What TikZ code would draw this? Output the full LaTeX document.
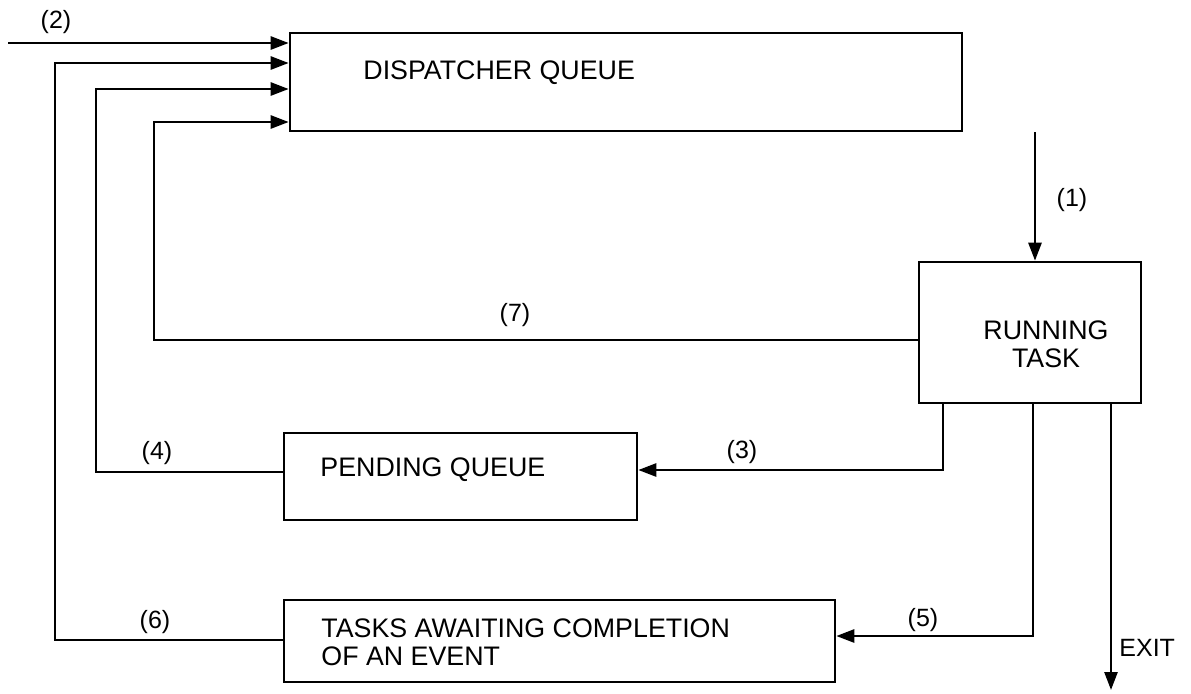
\documentclass[tikz,border=0pt]{standalone}
\usepackage{fontspec}
\setmainfont{Liberation Sans}
\usetikzlibrary{arrows.meta,calc}

\begin{document}
\begin{tikzpicture}[
    x=0.5pt,y=-0.5pt,
    box/.style={draw,line width=1.3pt,inner sep=0pt},
    arr/.style={-{Triangle[length=9pt,width=6.5pt]},line width=1.3pt},
    lbl/.style={font=\fontsize{12.5}{14}\selectfont,inner sep=0pt},
    txt/.style={font=\fontsize{13.4}{14}\selectfont,inner sep=0pt},
  ]
  \useasboundingbox (0,0) rectangle (1191,693);
  % boxes
  \node[box,minimum width=336pt,minimum height=49pt](dq) at (626,82){};
  \node[box,minimum width=111pt,minimum height=70.5pt](rt) at (1030,332.5){};
  \node[box,minimum width=176.5pt,minimum height=43.5pt](pq) at (460.5,476.5){};
  \node[box,minimum width=275.5pt,minimum height=41pt](ta) at (559.5,641){};
  % box texts
  \node[txt,anchor=west](dqt) at (363,73){DISPATCHER QUEUE};
  \node[txt,align=center](rtt) at (1046,344){RUNNING\\TASK};
  \node[txt,anchor=west](pqt) at (320,470){PENDING QUEUE};
  \node[txt,anchor=west,align=left](tat) at (321,642)
    {TASKS AWAITING COMPLETION\\OF AN EVENT};
  % lanes
  \coordinate (l2) at (8,43);
  \coordinate (c1) at (1035,0);
  \coordinate (k7) at (154,340);
  \coordinate (k4) at (96,472);
  \coordinate (k6) at (55,640);
  \coordinate (k3) at (943,470);
  \coordinate (k5) at (1033,636);
  \coordinate (ex) at (1111,690);
  % connectors
  \draw[arr](l2)--(l2 -| dq.west);
  \draw[arr](c1 |- dq.south)--(c1 |- rt.north);
  \draw[arr](rt.west |- k7)--(k7)|-(dq.west |- 0,122);
  \draw[arr](pq.west |- k4)--(k4)|-(dq.west |- 0,89);
  \draw[arr](ta.west |- k6)--(k6)|-(dq.west |- 0,63);
  \draw[arr](rt.south -| k3)--(k3)--(pq.east |- k3);
  \draw[arr](rt.south -| k5)--(k5)--(ta.east |- k5);
  \draw[arr](rt.south -| ex)--(ex);
  % labels
  \node[lbl](n2) at (56,22){(2)};
  \node[lbl](n1) at (1072,200){(1)};
  \node[lbl](n7) at (515,315){(7)};
  \node[lbl](n4) at (157,453){(4)};
  \node[lbl](n3) at (742,452){(3)};
  \node[lbl](n6) at (155,622){(6)};
  \node[lbl](n5) at (923,620){(5)};
  \node[lbl,anchor=west](nx) at (1119,648){EXIT};
\end{tikzpicture}
\end{document}
